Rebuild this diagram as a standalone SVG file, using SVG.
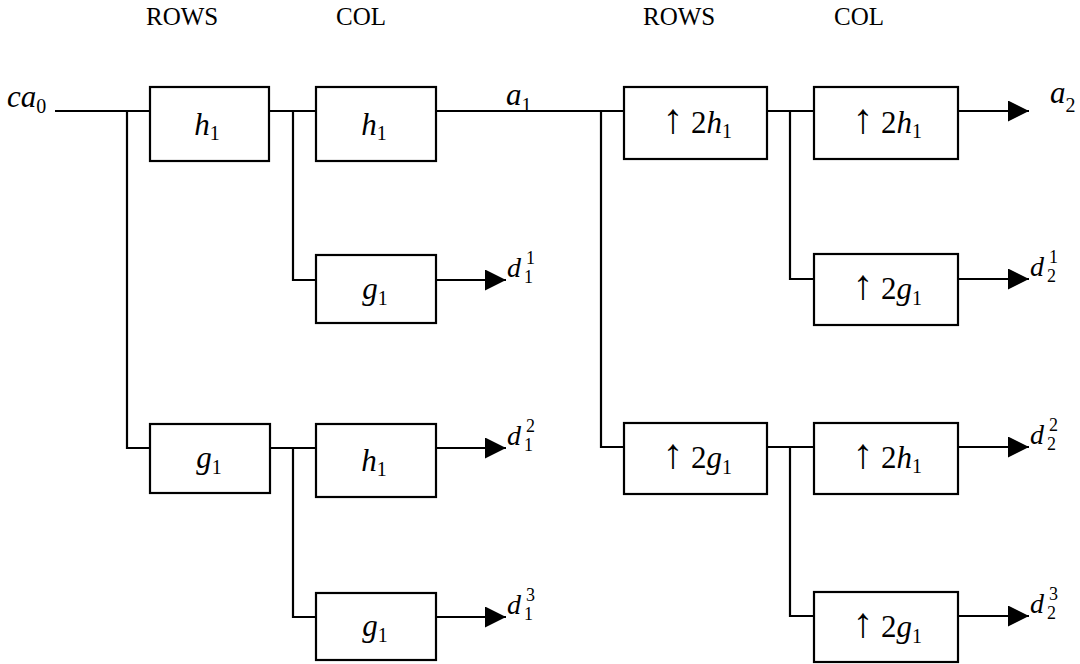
<svg xmlns="http://www.w3.org/2000/svg" width="1080" height="664" viewBox="0 0 1080 664" font-family="'Liberation Serif','DejaVu Serif',serif">
<defs>
<marker id="ah" markerUnits="userSpaceOnUse" markerWidth="22" markerHeight="22" refX="21" refY="10.5" orient="auto">
<path d="M0,0 L21,10.5 L0,21 Z" fill="#000"/>
</marker>
<style>
rect.box{fill:#fff;stroke:#000;stroke-width:2.2}
.w{fill:none;stroke:#000;stroke-width:2.2}
.a{fill:none;stroke:#000;stroke-width:2.2;marker-end:url(#ah)}
text,tspan{font-family:"Liberation Serif","DejaVu Serif",serif;fill:#000}
.hd{font-size:25px}
.m{font-size:31px;text-anchor:middle}
.lbl{font-size:31px}
.dl{font-size:28px}
.i{font-style:italic}
.s{font-size:20px}
.ss{font-size:18px}
.up{font-size:42px}
</style>
</defs>
<rect width="1080" height="664" fill="#fff"/>
<g id="headers">
<text class="hd" x="146" y="25">ROWS</text>
<text class="hd" x="336" y="25">COL</text>
<text class="hd" x="643" y="25">ROWS</text>
<text class="hd" x="834" y="25">COL</text>
</g>
<g id="connectors">
<path class="w" d="M55,111 H150 M127,111 V448 H150"/>
<path class="w" d="M269,111 H316 M293,111 V280 H316"/>
<path class="w" d="M270,448 H316 M293,448 V617 H316"/>
<path class="w" d="M436,111 H624 M601,111 V447 H624"/>
<path class="w" d="M767,111 H814 M790,111 V279 H814"/>
<path class="w" d="M767,447 H814 M790,447 V616 H814"/>
<path class="a" d="M436,280 H506"/>
<path class="a" d="M436,448 H506"/>
<path class="a" d="M436,617 H506"/>
<path class="a" d="M958,111 H1029"/>
<path class="a" d="M958,279 H1029"/>
<path class="a" d="M958,447 H1029"/>
<path class="a" d="M958,616 H1029"/>
</g>
<g id="labels">
<text class="lbl" x="7" y="107"><tspan class="i">ca</tspan><tspan class="s" dy="6">0</tspan></text>
<text class="lbl" x="506" y="105"><tspan class="i">a</tspan><tspan class="s" dy="7">1</tspan></text>
<text class="lbl" x="1050" y="103"><tspan class="i">a</tspan><tspan class="s" dy="9">2</tspan></text>
<g id="d11"><text class="dl i" x="507" y="277">d</text><text class="ss" x="526" y="264">1</text><text class="ss" x="524" y="283">1</text></g>
<g id="d12"><text class="dl i" x="507" y="445">d</text><text class="ss" x="526" y="432">2</text><text class="ss" x="524" y="451">1</text></g>
<g id="d13"><text class="dl i" x="507" y="614">d</text><text class="ss" x="526" y="601">3</text><text class="ss" x="524" y="620">1</text></g>
<g id="d21"><text class="dl i" x="1030" y="276">d</text><text class="ss" x="1049" y="263">1</text><text class="ss" x="1047" y="282">2</text></g>
<g id="d22"><text class="dl i" x="1030" y="444">d</text><text class="ss" x="1049" y="431">2</text><text class="ss" x="1047" y="450">2</text></g>
<g id="d23"><text class="dl i" x="1030" y="613">d</text><text class="ss" x="1049" y="600">3</text><text class="ss" x="1047" y="619">2</text></g>
</g>
<g id="rows_h1"><rect class="box" x="150" y="87" width="119" height="74"/><text class="m" x="207" y="135"><tspan class="i">h</tspan><tspan class="s" dy="5">1</tspan></text></g>
<g id="rows_g1"><rect class="box" x="150" y="424" width="120" height="69"/><text class="m" x="209" y="468"><tspan class="i">g</tspan><tspan class="s" dy="6">1</tspan></text></g>
<g id="col_h1_a"><rect class="box" x="316" y="87" width="120" height="74"/><text class="m" x="374" y="135"><tspan class="i">h</tspan><tspan class="s" dy="5">1</tspan></text></g>
<g id="col_g1_a"><rect class="box" x="316" y="255" width="120" height="68"/><text class="m" x="375" y="299"><tspan class="i">g</tspan><tspan class="s" dy="6">1</tspan></text></g>
<g id="col_h1_b"><rect class="box" x="316" y="424" width="120" height="73"/><text class="m" x="374" y="471"><tspan class="i">h</tspan><tspan class="s" dy="5">1</tspan></text></g>
<g id="col_g1_b"><rect class="box" x="316" y="593" width="120" height="67"/><text class="m" x="375" y="636"><tspan class="i">g</tspan><tspan class="s" dy="6">1</tspan></text></g>
<g id="up_rows_h1"><rect class="box" x="624" y="87" width="143" height="72"/><text class="m" x="697" y="133"><tspan class="up">↑</tspan> 2<tspan class="i">h</tspan><tspan class="s" dy="5">1</tspan></text></g>
<g id="up_rows_g1"><rect class="box" x="624" y="423" width="143" height="71"/><text class="m" x="697" y="468"><tspan class="up">↑</tspan> 2<tspan class="i">g</tspan><tspan class="s" dy="6">1</tspan></text></g>
<g id="up_col_h1_a"><rect class="box" x="814" y="87" width="144" height="72"/><text class="m" x="887" y="133"><tspan class="up">↑</tspan> 2<tspan class="i">h</tspan><tspan class="s" dy="5">1</tspan></text></g>
<g id="up_col_g1_a"><rect class="box" x="814" y="254" width="144" height="71"/><text class="m" x="887" y="299"><tspan class="up">↑</tspan> 2<tspan class="i">g</tspan><tspan class="s" dy="6">1</tspan></text></g>
<g id="up_col_h1_b"><rect class="box" x="814" y="423" width="144" height="71"/><text class="m" x="887" y="468"><tspan class="up">↑</tspan> 2<tspan class="i">h</tspan><tspan class="s" dy="5">1</tspan></text></g>
<g id="up_col_g1_b"><rect class="box" x="814" y="592" width="144" height="70"/><text class="m" x="887" y="637"><tspan class="up">↑</tspan> 2<tspan class="i">g</tspan><tspan class="s" dy="6">1</tspan></text></g>
</svg>
